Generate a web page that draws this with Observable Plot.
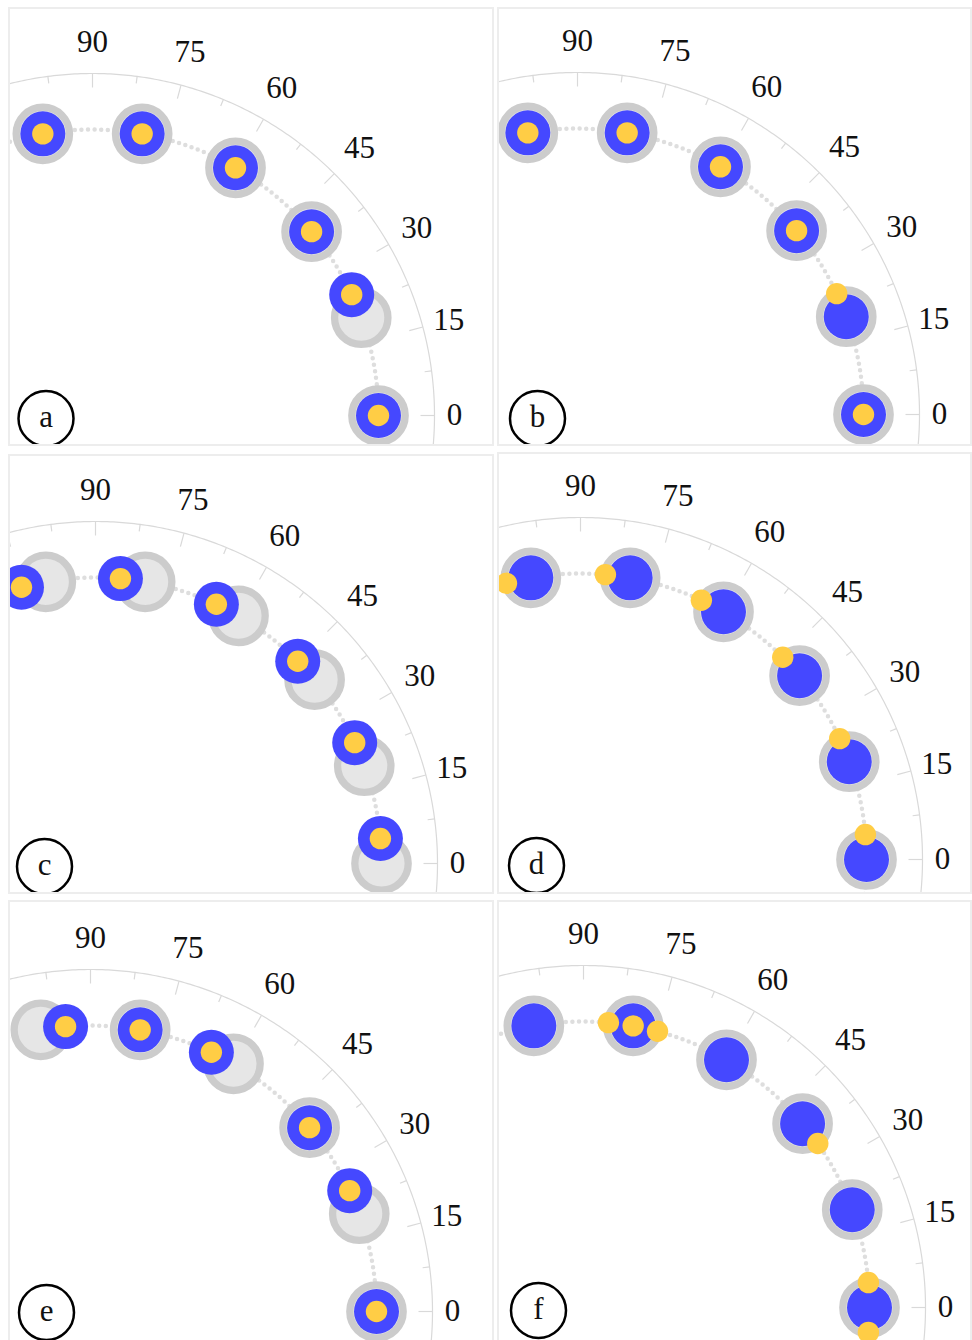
<!DOCTYPE html>
<html><head><meta charset="utf-8">
<script src="https://cdn.jsdelivr.net/npm/d3@7"></script>
<script src="https://cdn.jsdelivr.net/npm/@observablehq/plot@0.6"></script>
<style>
html,body{margin:0;padding:0;background:#fff;overflow:hidden;}
#root{position:relative;width:972px;height:1340px;}
.panel{position:absolute;box-sizing:border-box;border:2px solid #ededed;overflow:hidden;background:#fff;}
.panel svg{display:block;}
</style></head><body><div id="root"></div>
<script>
// ---- data ----
const panelLetters = ["a", "b", "c", "d", "e", "f"];
const targetAngles = [0, 20, 40, 60, 80, 100];
const tickLabels = [0, 15, 30, 45, 60, 75, 90];
const blueA = [0, 25, 40, 60, 80, 100];
const yellowA = [0, 25, 40, 60, 80, 100];
const blueB = [0, 20, 40, 60, 80, 100];
const yellowB = [0, 25, 40, 60, 80, 100];
const blueC = [5, 25, 45, 65, 85, 105];
const yellowC = [5, 25, 45, 65, 85, 105];
const blueD = [0, 20, 40, 60, 80, 100];
const yellowD = [5, 25, 45, 65, 85, 105];
const blueE = [0, 25, 40, 65, 80, 95];
const yellowE = [0, 25, 40, 65, 80, 95];
const blueF = [0, 20, 40, 60, 80, 100];
const yellowF = [-5, 5, 35, 75, 80, 85];

const blueSets = [blueA, blueB, blueC, blueD, blueE, blueF];
const yellowSets = [yellowA, yellowB, yellowC, yellowD, yellowE, yellowF];

// ---- layout ----
const K = 286;              // px per unit radius (track radius)
const TICK_R = 342 / K;     // scale arc radius
const BORDER = 2;
const FONT = "'Liberation Serif', 'Times New Roman', Times, serif";
const boxes = [[8,7,486,439],[497,7,475,439],[8,454,486,440],[497,452,475,442],[8,900,486,445],[497,900,475,445]];
const centers = [[92,415],[577,414],[95,863],[580,859],[90,1311],[583,1307]];
const badges = [[45.5,418],[537,418],[44,866],[536,865],[46,1312],[538,1310]];

const BLUE = "#4548ff", YELLOW = "#ffcd45";
const rad = d => d * Math.PI / 180;
const px = (a, r = 1) => r * Math.cos(rad(a));
const py = (a, r = 1) => r * Math.sin(rad(a));

const arcAngles = d3.range(-40, 140.01, 0.5);
const tickAngles = d3.range(-30, 135, 7.5);

// label-centre radius in px (labels sit a bit further out mid-arc)
function labelR(a) {
  const t = rad(a);
  return (362 + 11.2 * Math.sin(t) + 7.7 * Math.sin(2 * t)) / K;
}

const root = document.getElementById("root");
panelLetters.forEach((letter, i) => {
  const [L, T, W, H] = boxes[i];
  const iw = W - 2 * BORDER, ih = H - 2 * BORDER;
  const cx = centers[i][0] - L - BORDER, cy = centers[i][1] - T - BORDER;
  const bx = badges[i][0] - L - BORDER, by = badges[i][1] - T - BORDER;
  const chart = Plot.plot({
    width: iw, height: ih, margin: 0,
    x: {domain: [-cx / K, (iw - cx) / K], axis: null},
    y: {domain: [-(ih - cy) / K, cy / K], axis: null},
    style: {fontFamily: FONT, background: "white"},
    marks: [
      Plot.line(arcAngles, {x: a => px(a, TICK_R), y: a => py(a, TICK_R), stroke: "#d9d9d9", strokeWidth: 1.2}),
      Plot.link(tickAngles, {
        x1: a => px(a, TICK_R), y1: a => py(a, TICK_R),
        x2: a => px(a, TICK_R - ((a % 15 === 0) ? 14 : 7) / K),
        y2: a => py(a, TICK_R - ((a % 15 === 0) ? 14 : 7) / K),
        stroke: "#d9d9d9", strokeWidth: 1.2
      }),
      Plot.text(tickLabels, {
        x: a => px(a, labelR(a)), y: a => py(a, labelR(a)),
        text: a => String(a), fontSize: 31, fontFamily: FONT, fill: "#111", textAnchor: "middle", lineAnchor: "middle"
      }),
      Plot.line(arcAngles, {x: a => px(a), y: a => py(a), stroke: "#dedede", strokeWidth: 4.5,
        strokeDasharray: "0 6.6", strokeLinecap: "round"}),
      Plot.dot(targetAngles, {x: a => px(a), y: a => py(a), r: 26.7, fill: "#e6e6e6", stroke: "#cccccc", strokeWidth: 7.3}),
      Plot.dot(blueSets[i], {x: a => px(a), y: a => py(a), r: 22.5, fill: BLUE}),
      Plot.dot(yellowSets[i], {x: a => px(a), y: a => py(a), r: 10.7, fill: YELLOW}),
      Plot.dot([letter], {frameAnchor: "top-left", dx: bx, dy: by, r: 27.5, fill: "white", stroke: "black", strokeWidth: 2.5}),
      Plot.text([letter], {frameAnchor: "top-left", dx: bx, dy: by - 1, text: d => d, fontSize: 31, fontFamily: FONT, fill: "#111", textAnchor: "middle", lineAnchor: "middle"})
    ]
  });
  const div = document.createElement("div");
  div.className = "panel";
  div.style.left = L + "px"; div.style.top = T + "px";
  div.style.width = W + "px"; div.style.height = H + "px";
  div.appendChild(chart);
  root.appendChild(div);
});
</script>
</body></html>
